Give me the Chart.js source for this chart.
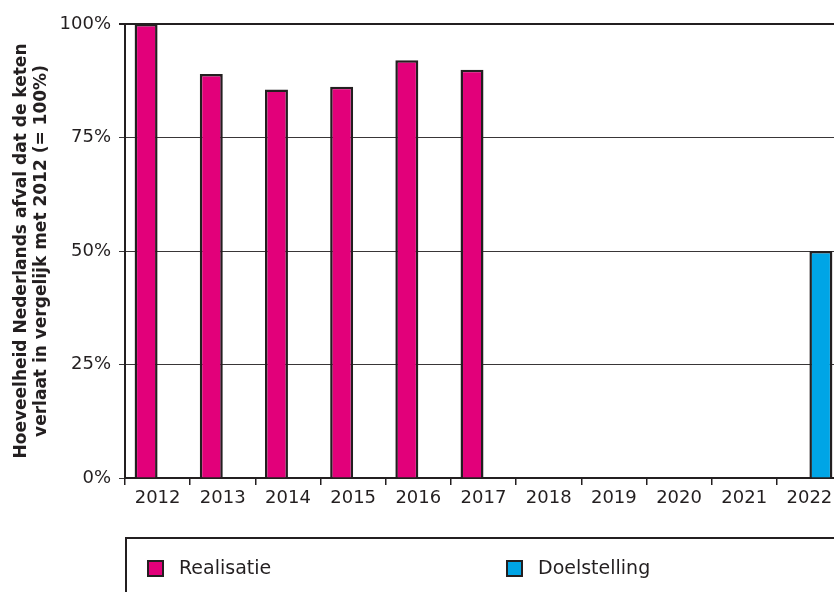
<!DOCTYPE html>
<html>
<head>
<meta charset="utf-8">
<script src="https://cdn.jsdelivr.net/npm/chart.js"></script>
<style>
  html, body { margin: 0; padding: 0; background: #fff; overflow: hidden; }
  #wrap { width: 850px; height: 592px; }
</style>
</head>
<body>
<div id="wrap"><canvas id="canvas-1" width="850" height="592"></canvas></div>
<script>
// data
const jaren = ['2012', '2013', '2014', '2015', '2016', '2017', '2018', '2019', '2020', '2021', '2022'];
const realisatie = [100, 89, 85.6, 86.2, 92, 89.9, null, null, null, null, null];
const doelstelling = [null, null, null, null, null, null, null, null, null, null, 50];
const yTicks = [0, 25, 50, 75, 100];

const donker = '#231f20';
const roze = '#e2007a';
const blauw = '#00a5e6';
const lettertype = '"DejaVu Sans", sans-serif';

// legenda in een kader onder de grafiek
const legendaKader = {
    id: 'legendaKader',
    afterDraw(chart) {
        const c = chart.ctx;
        c.save();
        c.strokeStyle = donker;
        c.lineWidth = 2;
        c.strokeRect(126, 538, 760, 100);
        const items = [[148, 0], [507, 1]];
        c.font = '19px ' + lettertype;
        c.textBaseline = 'middle';
        items.forEach(function (it) {
            const ds = chart.data.datasets[it[1]];
            c.fillStyle = ds.backgroundColor;
            c.fillRect(it[0], 561, 15, 15);
            c.lineWidth = 2;
            c.strokeStyle = donker;
            c.strokeRect(it[0], 561, 15, 15);
            c.fillStyle = donker;
            c.fillText(ds.label, it[0] + 31, 569);
        });
        c.restore();
    }
};

const ctx = document.getElementById('canvas-1').getContext('2d');

let chart = new Chart(ctx, {
    type: 'bar',
    data: {
        labels: jaren,
        datasets: [{
            label: 'Realisatie',
            data: realisatie,
            backgroundColor: roze,
            borderColor: donker,
            borderWidth: 2.5,
        }, {
            label: 'Doelstelling',
            data: doelstelling,
            backgroundColor: blauw,
            borderColor: donker,
            borderWidth: 2.5,
        }]
    },
    options: {
        responsive: false,
        animation: false,
        categoryPercentage: 0.705,
        barPercentage: 1.0,
        layout: {
            padding: { top: 24, left: 0, right: 8, bottom: 84 }
        },
        plugins: {
            legend: { display: false },
            tooltip: { enabled: false }
        },
        scales: {
            x: {
                grid: {
                    offset: true,
                    drawOnChartArea: false,
                    drawTicks: true,
                    tickLength: 7,
                    color: donker,
                    lineWidth: 1.5
                },
                border: { color: donker, width: 2 },
                ticks: {
                    color: donker,
                    font: { family: lettertype, size: 18 },
                    maxRotation: 0,
                    padding: 3
                },
                afterFit: function (s) { s.height = 30; }
            },
            y: {
                min: 0,
                max: 100,
                afterBuildTicks: function (s) {
                    s.ticks = yTicks.map(function (v) { return { value: v }; });
                },
                grid: {
                    color: donker,
                    lineWidth: function (c) { return c.tick && c.tick.value === 100 ? 2 : 0.9; },
                    tickLength: 6
                },
                border: { color: donker, width: 2 },
                ticks: {
                    color: donker,
                    font: { family: lettertype, size: 18 },
                    padding: 8,
                    callback: function (v) { return v + '%'; }
                },
                title: {
                    display: true,
                    text: ['Hoeveelheid Nederlands afval dat de keten', 'verlaat in vergelijk met 2012 (= 100%)'],
                    color: donker,
                    font: { family: lettertype, size: 17, weight: 'bold', lineHeight: 1.15 },
                    padding: { top: 12, bottom: 0 }
                },
                afterFit: function (s) { s.width = 125; }
            }
        }
    },
    plugins: [legendaKader]
});
</script>
</body>
</html>
